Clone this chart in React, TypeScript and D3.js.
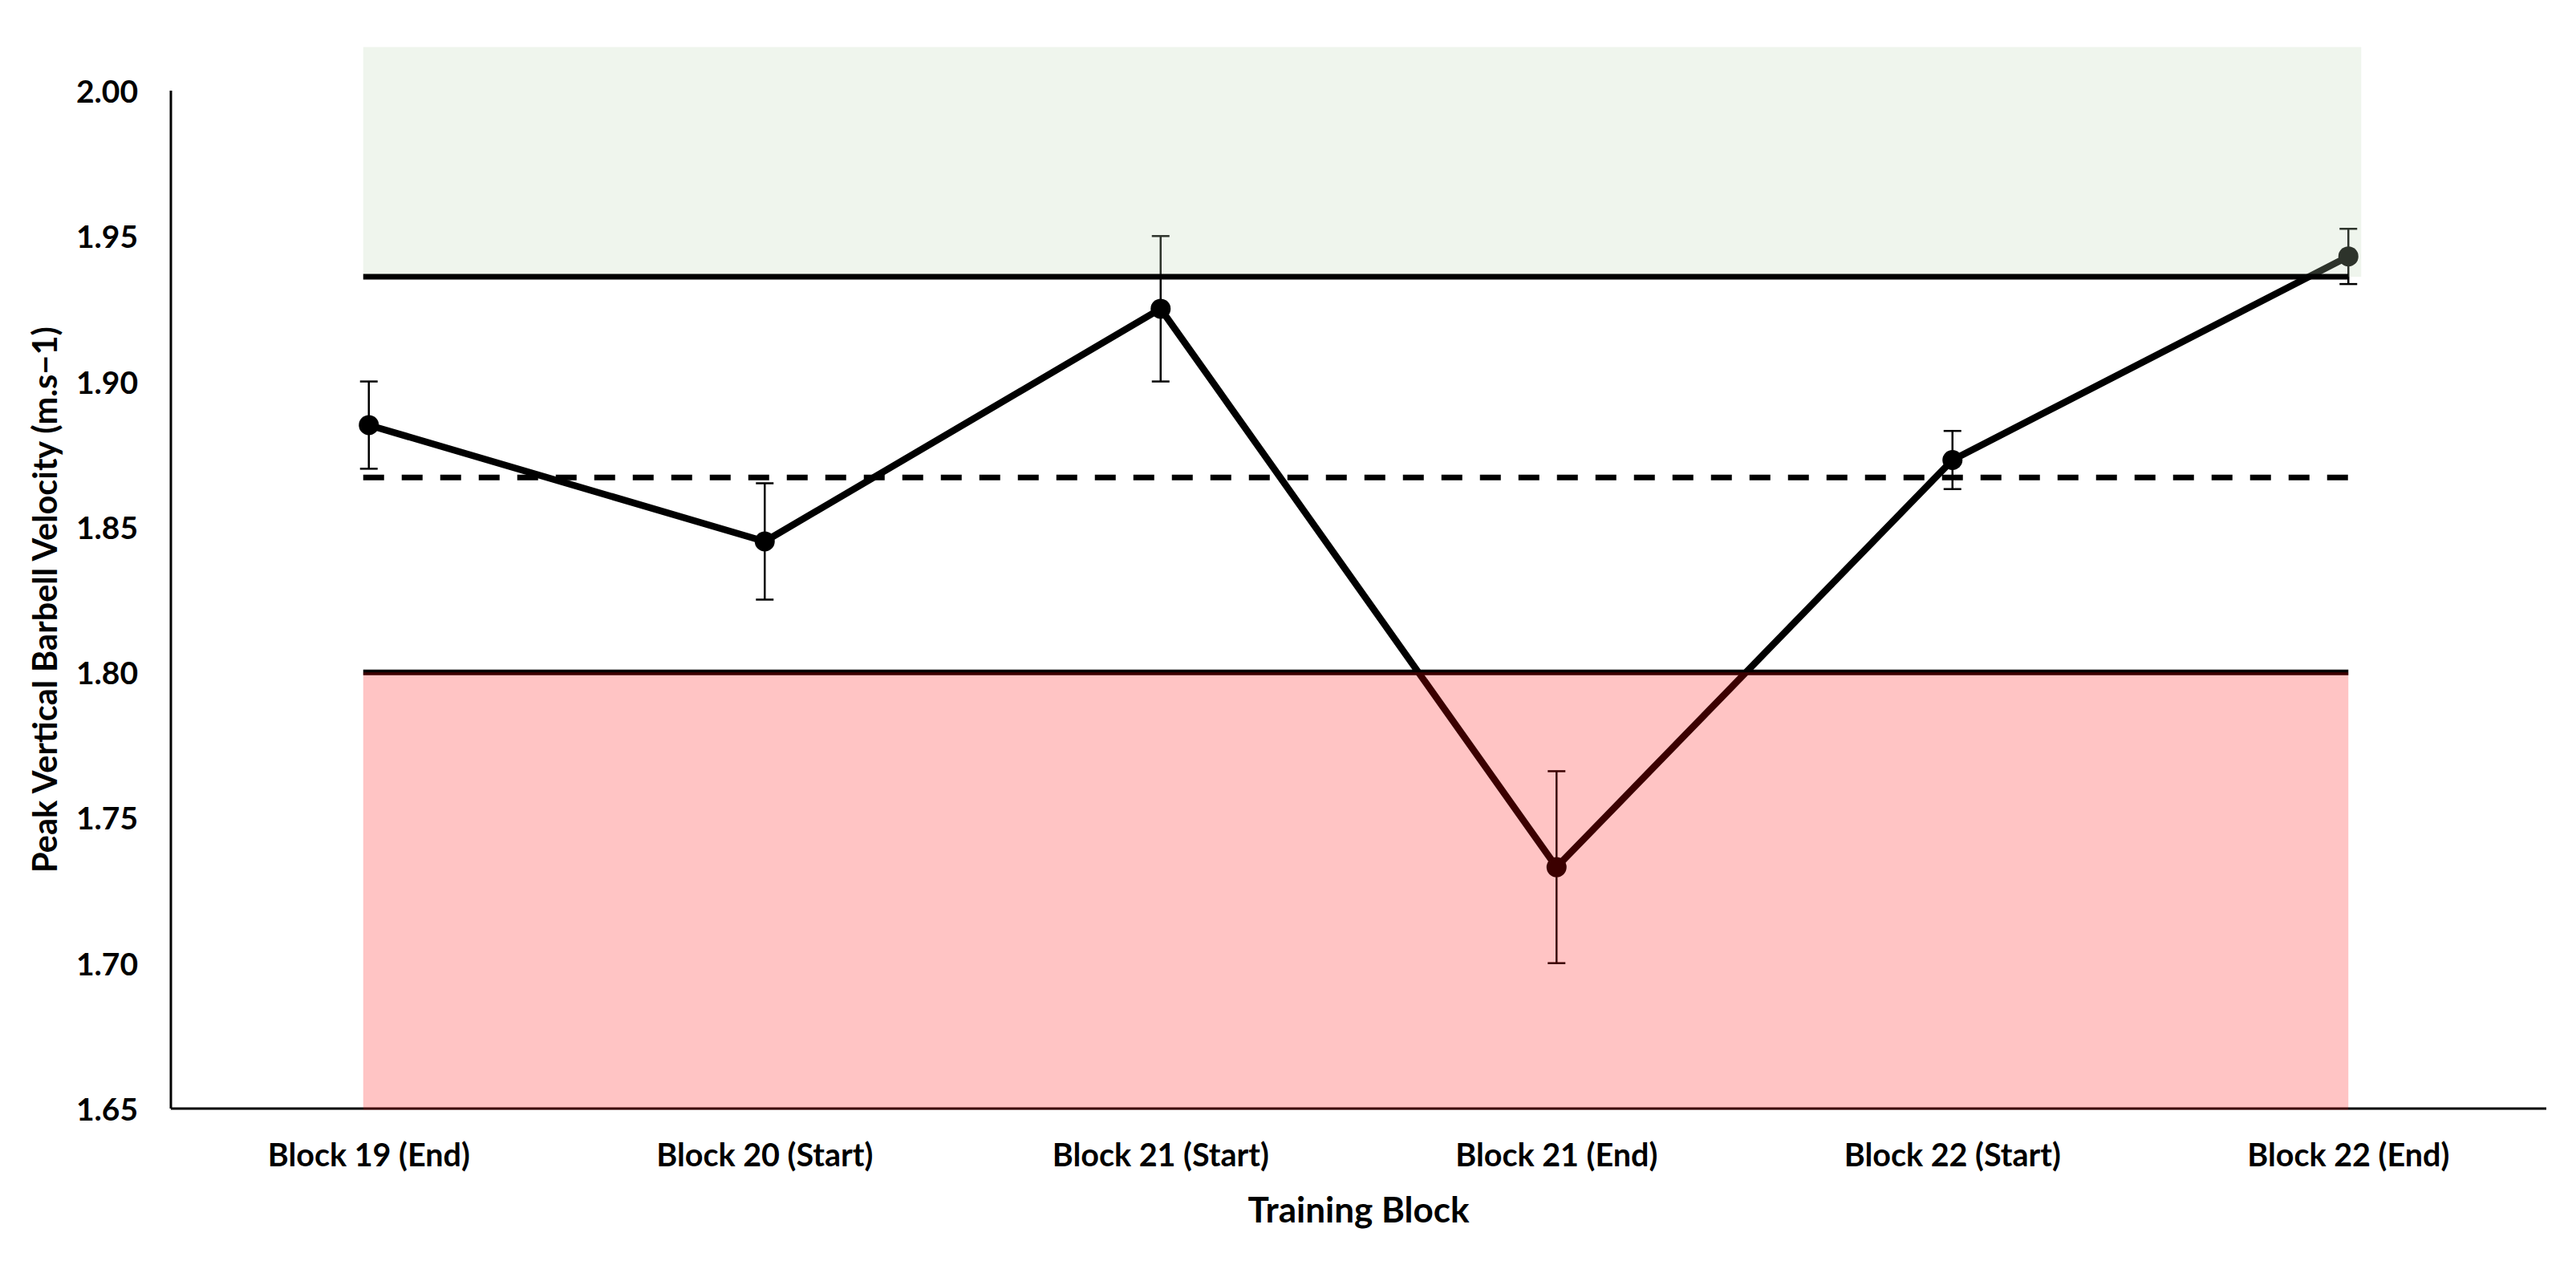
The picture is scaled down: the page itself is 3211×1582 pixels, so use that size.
import React from "react";
import * as d3 from "d3";

const categories = [
  "Block 19 (End)",
  "Block 20 (Start)",
  "Block 21 (Start)",
  "Block 21 (End)",
  "Block 22 (Start)",
  "Block 22 (End)",
];
const values = [1.885, 1.845, 1.925, 1.733, 1.873, 1.943];
const errors = [0.015, 0.02, 0.025, 0.033, 0.01, 0.0095];
const yTicks = [1.65, 1.7, 1.75, 1.8, 1.85, 1.9, 1.95, 2.0];
const upperLine = 1.936;
const meanLine = 1.867;
const lowerLine = 1.8;
const greenZone = [1.936, 2.015];
const redZone = [1.65, 1.8];

const W = 3211;
const H = 1582;
const left = 213;
const right = 3174;
const top = 113;
const bottom = 1382;
const FONT = "Lato, 'Open Sans', sans-serif";

export default function App() {
  const x = d3.scaleBand<string>().domain(categories).range([left, right]).padding(0);
  const y = d3.scaleLinear().domain([1.65, 2.0]).range([bottom, top]);
  const cx = (c: string) => (x(c) as number) + x.bandwidth() / 2;
  const x0 = cx(categories[0]) - 7;
  const x1 = cx(categories[categories.length - 1]);
  const line = d3
    .line<number>()
    .x((_, i) => cx(categories[i]))
    .y((d) => y(d));

  return (
    <svg
      width={W}
      height={H}
      style={{ position: "absolute", left: 0, top: 0, background: "#fff" }}
      fontFamily={FONT}
    >
      {/* axes */}
      <line x1={left} x2={left} y1={y(2.0)} y2={bottom} stroke="#000" strokeWidth={3} />
      <line x1={left} x2={right} y1={bottom} y2={bottom} stroke="#000" strokeWidth={3} />

      {/* y tick labels */}
      {yTicks.map((t) => (
        <text
          key={t}
          x={left - 41}
          y={y(t)}
          textAnchor="end"
          dominantBaseline="central"
          fontSize={39}
          fontWeight="bold"
        >
          {t.toFixed(2)}
        </text>
      ))}

      {/* x tick labels */}
      {categories.map((c) => (
        <text
          key={c}
          x={cx(c)}
          y={bottom + 56}
          textAnchor="middle"
          dominantBaseline="central"
          fontSize={39.5}
          fontWeight="bold"
        >
          {c}
        </text>
      ))}

      {/* axis titles */}
      <text
        x={(left + right) / 2}
        y={1507}
        textAnchor="middle"
        dominantBaseline="central"
        fontSize={44}
        fontWeight="bold"
      >
        Training Block
      </text>
      <text
        transform={`translate(55, ${(top + bottom) / 2}) rotate(-90)`}
        textAnchor="middle"
        dominantBaseline="central"
        fontSize={41.5}
        fontWeight="bold"
      >
        Peak Vertical Barbell Velocity (m.s−1)
      </text>

      {/* reference lines */}
      <line x1={x0} x2={x1} y1={y(lowerLine)} y2={y(lowerLine)} stroke="#000" strokeWidth={7} />
      <line
        x1={x0}
        x2={x1}
        y1={y(meanLine)}
        y2={y(meanLine)}
        stroke="#000"
        strokeWidth={7}
        strokeDasharray="26 22"
      />

      {/* series */}
      <path d={line(values) || ""} fill="none" stroke="#000" strokeWidth={8.5} strokeLinejoin="round" />
      {values.map((v, i) => {
        const c = cx(categories[i]);
        return (
          <g key={i}>
            <line x1={c} x2={c} y1={y(v + errors[i])} y2={y(v - errors[i])} stroke="#000" strokeWidth={2.5} />
            <line x1={c - 11} x2={c + 11} y1={y(v + errors[i])} y2={y(v + errors[i])} stroke="#000" strokeWidth={2.5} />
            <line x1={c - 11} x2={c + 11} y1={y(v - errors[i])} y2={y(v - errors[i])} stroke="#000" strokeWidth={2.5} />
            <circle cx={c} cy={y(v)} r={12.5} fill="#000" />
          </g>
        );
      })}

      {/* zones (semi-transparent overlays) */}
      <rect
        x={x0}
        y={y(greenZone[1])}
        width={x1 + 16 - x0}
        height={y(greenZone[0]) - y(greenZone[1])}
        fill="rgb(190,215,180)"
        fillOpacity={0.24}
      />
      <rect
        x={x0}
        y={y(redZone[1])}
        width={x1 - x0}
        height={y(redZone[0]) - y(redZone[1]) + 1.5}
        fill="rgb(255,0,0)"
        fillOpacity={0.23}
      />

      {/* upper threshold line on top */}
      <line x1={x0} x2={x1} y1={y(upperLine)} y2={y(upperLine)} stroke="#000" strokeWidth={7} />
    </svg>
  );
}
